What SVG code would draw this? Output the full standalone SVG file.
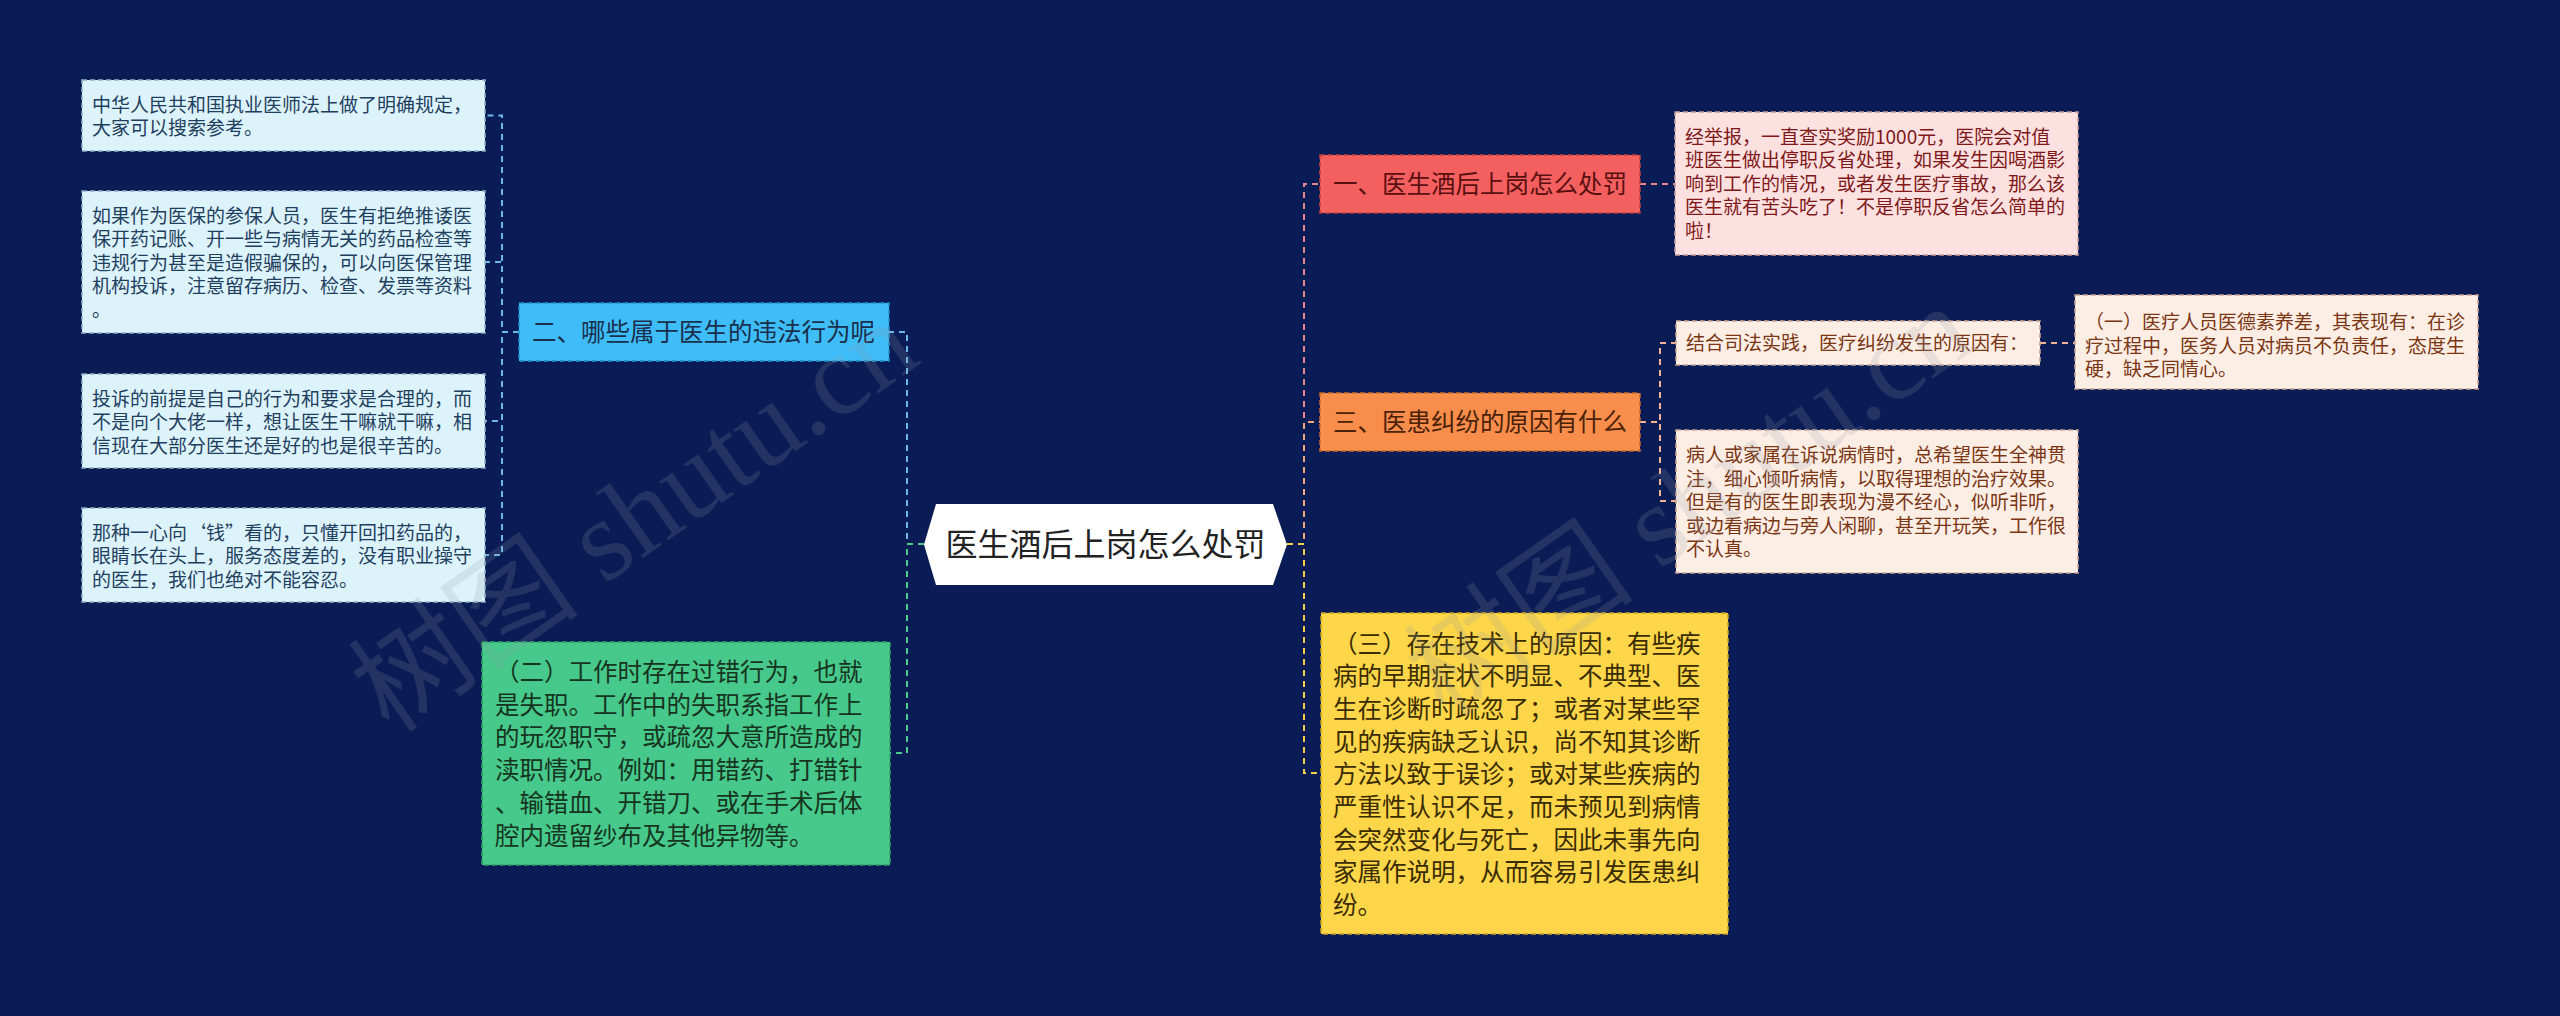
<svg xmlns="http://www.w3.org/2000/svg" width="2560" height="1016" viewBox="0 0 2560 1016">
<style>
  text { font-family: 'Noto Sans CJK SC', 'Noto Sans', sans-serif; }
  .conn { fill: none; stroke-width: 2; stroke-dasharray: 6 5; }
  .c-blue { stroke: #6db8ea; }
  .c-green { stroke: #4cc98d; }
  .c-pink { stroke: #e8868e; }
  .c-orange { stroke: #f2a77c; }
  .c-yellow { stroke: #f5d04a; }
  .c-peach { stroke: #f0b394; }
  .box { stroke-width: 1.5; stroke-dasharray: 5 3; }
  .lb { fill: #ddf3fc; stroke: #8fb2c6; }
  .lb-t { fill: #1f3f5e; font-size: 19px; }
  .pk { fill: #fde1e1; stroke: #c99a9a; }
  .pk-t { fill: #801818; font-size: 19px; }
  .pc { fill: #fdeee5; stroke: #c9a592; }
  .pc-t { fill: #7a3512; font-size: 19px; }
  .big { font-size: 24.5px; }
  .wm { font-family: 'Liberation Serif', 'Noto Sans CJK SC', serif; font-size: 116px; fill: #8f9aaa; opacity: 0.18; }
</style>
<rect x="0" y="0" width="2560" height="1016" fill="#0a1c55"/>

<g id="connectors">
  <path class="conn c-blue" d="M519,332 H502 V115.5 H485"/>
  <path class="conn c-blue" d="M519,332 H502 V262 H485"/>
  <path class="conn c-blue" d="M519,332 H502 V421 H485"/>
  <path class="conn c-blue" d="M519,332 H502 V555 H485"/>
  <path class="conn c-blue" d="M924,544 H907 V332 H889"/>
  <path class="conn c-green" d="M924,544 H907 V753 H890"/>
  <path class="conn c-pink" d="M1287,544 H1304 V184 H1320"/>
  <path class="conn c-orange" d="M1287,544 H1304 V422 H1320"/>
  <path class="conn c-yellow" d="M1287,544 H1304 V773 H1321"/>
  <path class="conn c-pink" d="M1640,184 H1675"/>
  <path class="conn c-peach" d="M1640,422 H1660 V343 H1676"/>
  <path class="conn c-peach" d="M1640,422 H1660 V501 H1676"/>
  <path class="conn c-peach" d="M2040,343 H2075"/>
</g>

<g id="root">
  <polygon points="936,504 1273,504 1287,544.5 1273,585 936,585 924,544.5" fill="#ffffff"/>
  <text x="1105.5" y="556" text-anchor="middle" font-size="32" fill="#222222">医生酒后上岗怎么处罚</text>
</g>

<g id="n-left-1">
  <rect class="box lb" x="82" y="80" width="403" height="71"/>
  <text class="lb-t"><tspan x="92" y="111.5">中华人民共和国执业医师法上做了明确规定，</tspan><tspan x="92" dy="23.5">大家可以搜索参考。</tspan></text>
</g>
<g id="n-left-2">
  <rect class="box lb" x="82" y="191" width="403" height="142"/>
  <text class="lb-t"><tspan x="92" y="222.5">如果作为医保的参保人员，医生有拒绝推诿医</tspan><tspan x="92" dy="23.5">保开药记账、开一些与病情无关的药品检查等</tspan><tspan x="92" dy="23.5">违规行为甚至是造假骗保的，可以向医保管理</tspan><tspan x="92" dy="23.5">机构投诉，注意留存病历、检查、发票等资料</tspan><tspan x="92" dy="23.5">。</tspan></text>
</g>
<g id="n-left-3">
  <rect class="box lb" x="82" y="374" width="403" height="94"/>
  <text class="lb-t"><tspan x="92" y="405.5">投诉的前提是自己的行为和要求是合理的，而</tspan><tspan x="92" dy="23.5">不是向个大佬一样，想让医生干嘛就干嘛，相</tspan><tspan x="92" dy="23.5">信现在大部分医生还是好的也是很辛苦的。</tspan></text>
</g>
<g id="n-left-4">
  <rect class="box lb" x="82" y="508" width="403" height="94"/>
  <text class="lb-t"><tspan x="92" y="539.5">那种一心向‘钱”看的，只懂开回扣药品的，</tspan><tspan x="92" dy="23.5">眼睛长在头上，服务态度差的，没有职业操守</tspan><tspan x="92" dy="23.5">的医生，我们也绝对不能容忍。</tspan></text>
</g>

<g id="n-er">
  <rect class="box" x="519" y="303" width="370" height="58" fill="#3ebdf8" stroke="#2390c8"/>
  <text class="big" x="532" y="341" fill="#1a2f4c">二、哪些属于医生的违法行为呢</text>
</g>
<g id="n-green">
  <rect class="box" x="482" y="642" width="408" height="223" fill="#46c98a" stroke="#2e9f66"/>
  <text class="big" fill="#163421"><tspan x="495" y="681">（二）工作时存在过错行为，也就</tspan><tspan x="495" dy="32.7">是失职。工作中的失职系指工作上</tspan><tspan x="495" dy="32.7">的玩忽职守，或疏忽大意所造成的</tspan><tspan x="495" dy="32.7">渎职情况。例如：用错药、打错针</tspan><tspan x="495" dy="32.7">、输错血、开错刀、或在手术后体</tspan><tspan x="495" dy="32.7">腔内遗留纱布及其他异物等。</tspan></text>
</g>

<g id="n-yi">
  <rect class="box" x="1320" y="155" width="320" height="58" fill="#f45f5f" stroke="#c43c3c"/>
  <text class="big" x="1333" y="193" fill="#5a1010">一、医生酒后上岗怎么处罚</text>
</g>
<g id="n-yi-1">
  <rect class="box pk" x="1675" y="112" width="403" height="143"/>
  <text class="pk-t"><tspan x="1685" y="143.5">经举报，一直查实奖励1000元，医院会对值</tspan><tspan x="1685" dy="23.5">班医生做出停职反省处理，如果发生因喝酒影</tspan><tspan x="1685" dy="23.5">响到工作的情况，或者发生医疗事故，那么该</tspan><tspan x="1685" dy="23.5">医生就有苦头吃了！不是停职反省怎么简单的</tspan><tspan x="1685" dy="23.5">啦！</tspan></text>
</g>

<g id="n-san">
  <rect class="box" x="1320" y="393" width="320" height="58" fill="#f98d4b" stroke="#c8682c"/>
  <text class="big" x="1333" y="431" fill="#4a2208">三、医患纠纷的原因有什么</text>
</g>
<g id="n-san-1">
  <rect class="box pc" x="1676" y="321" width="364" height="44"/>
  <text class="pc-t" x="1686" y="350">结合司法实践，医疗纠纷发生的原因有：</text>
</g>
<g id="n-san-1-1">
  <rect class="box pc" x="2075" y="295" width="403" height="94"/>
  <text class="pc-t"><tspan x="2085" y="329">（一）医疗人员医德素养差，其表现有：在诊</tspan><tspan x="2085" dy="23.5">疗过程中，医务人员对病员不负责任，态度生</tspan><tspan x="2085" dy="23.5">硬，缺乏同情心。</tspan></text>
</g>
<g id="n-san-2">
  <rect class="box pc" x="1676" y="430" width="402" height="143"/>
  <text class="pc-t"><tspan x="1686" y="462">病人或家属在诉说病情时，总希望医生全神贯</tspan><tspan x="1686" dy="23.5">注，细心倾听病情，以取得理想的治疗效果。</tspan><tspan x="1686" dy="23.5">但是有的医生即表现为漫不经心，似听非听，</tspan><tspan x="1686" dy="23.5">或边看病边与旁人闲聊，甚至开玩笑，工作很</tspan><tspan x="1686" dy="23.5">不认真。</tspan></text>
</g>

<g id="n-yellow">
  <rect class="box" x="1321" y="613" width="407" height="321" fill="#fdd64a" stroke="#c9a21c"/>
  <text class="big" fill="#3a2c00"><tspan x="1333" y="652.5">（三）存在技术上的原因：有些疾</tspan><tspan x="1333" dy="32.7">病的早期症状不明显、不典型、医</tspan><tspan x="1333" dy="32.7">生在诊断时疏忽了；或者对某些罕</tspan><tspan x="1333" dy="32.7">见的疾病缺乏认识，尚不知其诊断</tspan><tspan x="1333" dy="32.7">方法以致于误诊；或对某些疾病的</tspan><tspan x="1333" dy="32.7">严重性认识不足，而未预见到病情</tspan><tspan x="1333" dy="32.7">会突然变化与死亡，因此未事先向</tspan><tspan x="1333" dy="32.7">家属作说明，从而容易引发医患纠</tspan><tspan x="1333" dy="32.7">纷。</tspan></text>
</g>

<g id="watermarks">
  <text class="wm" transform="translate(390,735) rotate(-35)">树图 shutu.cn</text>
  <text class="wm" transform="translate(1445,720) rotate(-35)">树图 shutu.cn</text>
</g>
</svg>
